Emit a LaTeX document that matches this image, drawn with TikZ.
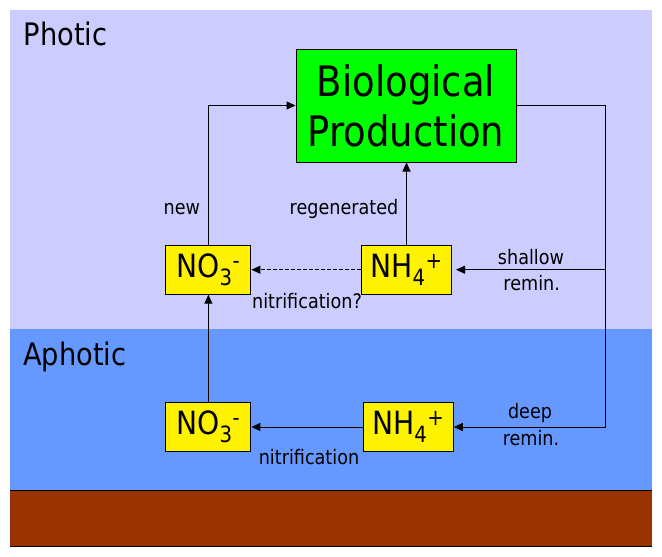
\documentclass[tikz,border=0pt]{standalone}
\usepackage{fontspec}
\setmainfont{DejaVu Sans}[FakeStretch=0.88]
\usetikzlibrary{arrows.meta}
\definecolor{photic}{HTML}{CCCCFF}
\definecolor{aphotic}{HTML}{6699FF}
\definecolor{seabed}{HTML}{993300}

\begin{document}
\begin{tikzpicture}[x=1pt, y=-1pt, line width=1pt, >={Triangle[length=9pt,width=8pt]},
	pool/.style={draw, rectangle, fill=yellow, minimum width=85pt, minimum height=49pt, inner sep=0pt, font=\fontsize{32}{36}\selectfont},
	lbl/.style={anchor=base, inner sep=0pt, font=\fontsize{20}{24}\selectfont},
	zone/.style={anchor=base, inner sep=0pt, font=\fontsize{31}{36}\selectfont}]
				% layers
				\fill[white] (0,0) rectangle (662,557);
				\fill[photic] (10,10) rectangle (652,329);
				\fill[aphotic] (10,329) rectangle (652,490);
				\fill[seabed] (10,490) rectangle (652,546);
				\draw (10,490) -- (652,490);
				\draw (10,546) -- (652,546);
				\node[zone] (Ph) at (65.5,45) {Photic};
				\node[zone] (Aph) at (74.7,365) {Aphotic};
				% boxes
				\node[draw, rectangle, fill=green, minimum width=220pt, minimum height=113pt, inner sep=0pt, align=center, font=\fontsize{42}{50}\selectfont] (BP) at (406,105.5) {Biological\\Production};
				\node[pool] (NO3t) at (208.4,269.7) {NO\textsubscript{3}\textsuperscript{-}};
				\node[pool, minimum width=90pt] (NH4t) at (406.5,269.7) {NH\textsubscript{4}\textsuperscript{+}};
				\node[pool] (NO3b) at (208.4,427) {NO\textsubscript{3}\textsuperscript{-}};
				\node[pool, minimum width=90pt] (NH4b) at (408.3,427) {NH\textsubscript{4}\textsuperscript{+}};
				\coordinate (R) at (605.7,427);
				% fluxes
				\draw[->] (NO3t.north) |- (BP.west);
				\draw[->] (NH4t.north) -- (NH4t.north |- BP.south);
				\draw[->] (BP.east) -| (R) -- (NH4b.east);
				\draw[->, shorten >=4pt] (R |- NH4t) -- (NH4t.east);
				\draw[->, dash pattern=on 4pt off 2pt] (NH4t.west) -- (NO3t.east);
				\draw[->] (NO3b.north) -- (NO3t.south);
				\draw[->] (NH4b.west) -- (NO3b.east);
				% labels
				\node[lbl] (new) at (181.8,214) {new};
				\node[lbl] (regen) at (344,214) {regenerated};
				\node[lbl] (shal) at (531,264.3) {shallow};
				\node[lbl] (remA) at (531.7,290) {remin.};
				\node[lbl] (nitQ) at (307,308.3) {nitrification?};
				\node[lbl] (deep) at (530,418.3) {deep};
				\node[lbl] (remB) at (531,445) {remin.};
				\node[lbl] (nit) at (309,464) {nitrification};
			\end{tikzpicture}
\end{document}
